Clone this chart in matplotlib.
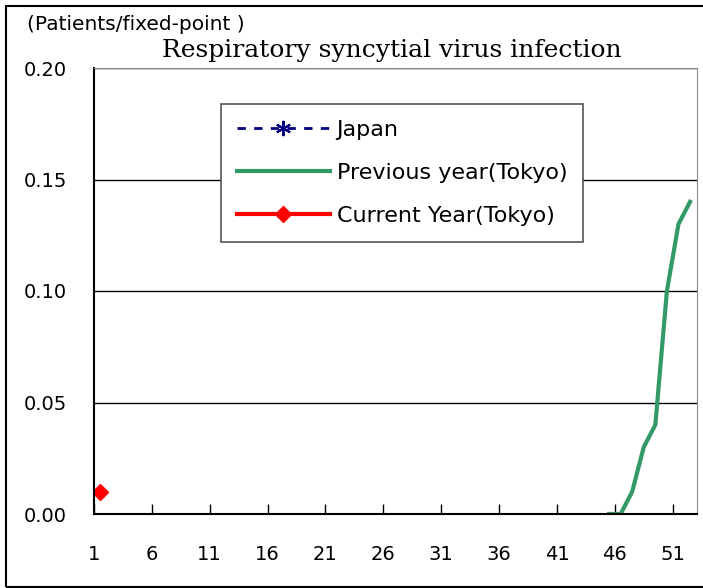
import numpy as np
import matplotlib
matplotlib.use('Agg')
import matplotlib.pyplot as plt
from matplotlib.patches import Rectangle

# weekly report values (patients per fixed point)
prev_weeks = [45, 46, 47, 48, 49, 50, 51, 52]
prev_values = [0.0, 0.0, 0.01, 0.03, 0.04, 0.10, 0.13, 0.14]
curr_weeks = [1]
curr_values = [0.01]
japan_weeks = []
japan_values = []
x_ticks = [1, 6, 11, 16, 21, 26, 31, 36, 41, 46, 51]
y_ticks = [0.0, 0.05, 0.10, 0.15, 0.20]

plt.rcParams['font.family'] = ['DejaVu Sans']

fig = plt.figure(figsize=(7.03, 5.88), dpi=100)
ax = fig.add_axes([94 / 703, 1 - 514 / 588, 603 / 703, 446 / 588])

ax.plot(japan_weeks, japan_values, color='#000080', linestyle=(0, (3, 3)), lw=2,
        marker=(6, 2, 0), markersize=11, markeredgewidth=1.5, label='Japan')
ax.plot(prev_weeks, prev_values, color='#339966', lw=3, label='Previous year(Tokyo)')
ax.plot(curr_weeks, curr_values, color='#FF0000', lw=3, marker='D', markersize=8,
        label='Current Year(Tokyo)')

ax.set_xlim(0.5, 52.6)
ax.set_ylim(0, 0.2)
ax.set_xticks([t - 0.5 for t in x_ticks])
ax.set_xticklabels([str(t) for t in x_ticks], fontsize=14)
ax.set_yticks(y_ticks)
ax.set_yticklabels(['%.2f' % v for v in y_ticks], fontsize=14)
ax.tick_params(axis='x', direction='in', length=7, width=1, pad=22)
ax.tick_params(axis='y', length=0, pad=19.5)
ax.yaxis.grid(True, color='black', lw=1)
ax.set_axisbelow(True)

ax.spines['left'].set_color('black')
ax.spines['bottom'].set_color('black')
ax.spines['left'].set_linewidth(1.5)
ax.spines['bottom'].set_linewidth(1.5)
ax.spines['top'].set_color('#888888')
ax.spines['right'].set_color('#888888')

leg = ax.legend(loc='upper left', bbox_to_anchor=((221 - 94) / 603, (514 - 104) / 446),
                borderaxespad=0, fontsize=16, handlelength=4.2, fancybox=False,
                framealpha=1, edgecolor='#555555', labelspacing=1.05,
                borderpad=0.7, handletextpad=0.3)
leg.get_frame().set_linewidth(1.2)

fig.text(27 / 703, 1 - 25 / 588, '(Patients/fixed-point )', fontsize=14.5, va='center')
fig.text(392 / 703, 1 - 50 / 588, 'Respiratory syncytial virus infection',
         fontsize=18, family='DejaVu Serif', ha='center', va='center')

fig.patches.append(Rectangle((6 / 703, 1 / 588), 1.0, 581 / 588, transform=fig.transFigure,
                             fill=False, edgecolor='black', lw=1.5))

fig.savefig('out.png', dpi=100)
